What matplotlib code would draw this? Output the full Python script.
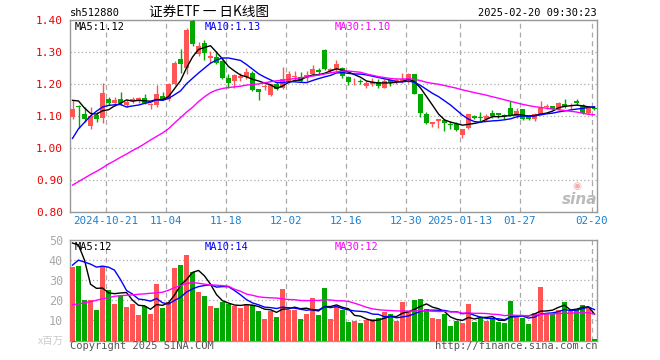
import numpy as np
import pandas as pd
import matplotlib
matplotlib.use('Agg')
import matplotlib.pyplot as plt

# 日K数据 sh512880 证券ETF  (2024-10-11 ~ 2025-02-20, 88 个交易日)
open_ = [1.098, 1.130, 1.105, 1.069, 1.102, 1.095, 1.152, 1.140, 1.152, 1.134,
         1.147, 1.147, 1.157, 1.133, 1.134, 1.163, 1.152, 1.201, 1.277, 1.251,
         1.397, 1.295, 1.329, 1.280, 1.284, 1.272, 1.218, 1.209, 1.220, 1.223,
         1.235, 1.183, 1.190, 1.166, 1.199, 1.188, 1.209, 1.222, 1.222, 1.218,
         1.230, 1.243, 1.305, 1.241, 1.246, 1.251, 1.222, 1.205, 1.208, 1.194,
         1.201, 1.206, 1.189, 1.213, 1.209, 1.209, 1.211, 1.230, 1.168, 1.107,
         1.074, 1.084, 1.088, 1.075, 1.076, 1.041, 1.064, 1.100, 1.098, 1.090,
         1.110, 1.109, 1.103, 1.124, 1.100, 1.121, 1.100, 1.090, 1.103, 1.129,
         1.132, 1.121, 1.139, 1.133, 1.147, 1.135, 1.110, 1.125]
high = [1.149, 1.133, 1.128, 1.128, 1.114, 1.202, 1.159, 1.160, 1.176, 1.150,
        1.160, 1.160, 1.170, 1.142, 1.197, 1.176, 1.203, 1.273, 1.308, 1.375,
        1.402, 1.330, 1.336, 1.303, 1.303, 1.275, 1.230, 1.230, 1.235, 1.249,
        1.240, 1.185, 1.200, 1.201, 1.205, 1.253, 1.240, 1.240, 1.238, 1.240,
        1.258, 1.251, 1.310, 1.251, 1.274, 1.253, 1.224, 1.218, 1.215, 1.209,
        1.218, 1.215, 1.215, 1.215, 1.220, 1.235, 1.235, 1.232, 1.170, 1.112,
        1.082, 1.092, 1.092, 1.084, 1.082, 1.058, 1.107, 1.103, 1.114, 1.105,
        1.118, 1.110, 1.105, 1.147, 1.124, 1.121, 1.103, 1.109, 1.147, 1.139,
        1.132, 1.145, 1.152, 1.140, 1.152, 1.139, 1.128, 1.128]
low = [1.090, 1.062, 1.080, 1.060, 1.081, 1.078, 1.134, 1.132, 1.135, 1.128,
       1.140, 1.142, 1.138, 1.121, 1.128, 1.149, 1.147, 1.197, 1.235, 1.230,
       1.318, 1.288, 1.274, 1.267, 1.261, 1.215, 1.189, 1.189, 1.209, 1.215,
       1.178, 1.149, 1.180, 1.163, 1.180, 1.183, 1.204, 1.209, 1.207, 1.209,
       1.225, 1.230, 1.244, 1.235, 1.241, 1.218, 1.197, 1.197, 1.199, 1.187,
       1.194, 1.187, 1.187, 1.194, 1.199, 1.204, 1.204, 1.168, 1.097, 1.074,
       1.066, 1.064, 1.053, 1.058, 1.053, 1.032, 1.058, 1.090, 1.084, 1.084,
       1.095, 1.095, 1.090, 1.100, 1.095, 1.086, 1.086, 1.084, 1.102, 1.121,
       1.118, 1.118, 1.126, 1.121, 1.134, 1.107, 1.105, 1.118]
close = [1.121, 1.127, 1.090, 1.100, 1.092, 1.173, 1.142, 1.150, 1.142, 1.144,
         1.154, 1.155, 1.142, 1.136, 1.170, 1.153, 1.201, 1.267, 1.261, 1.368,
         1.324, 1.320, 1.298, 1.288, 1.267, 1.218, 1.202, 1.228, 1.225, 1.239,
         1.180, 1.176, 1.195, 1.199, 1.183, 1.215, 1.232, 1.225, 1.209, 1.228,
         1.246, 1.236, 1.248, 1.246, 1.261, 1.225, 1.207, 1.207, 1.206, 1.202,
         1.206, 1.194, 1.209, 1.206, 1.213, 1.217, 1.230, 1.170, 1.108, 1.079,
         1.082, 1.092, 1.079, 1.073, 1.055, 1.058, 1.105, 1.093, 1.093, 1.100,
         1.100, 1.103, 1.101, 1.103, 1.116, 1.090, 1.090, 1.107, 1.126, 1.132,
         1.121, 1.142, 1.130, 1.135, 1.142, 1.110, 1.126, 1.122]
# 成交量 (x百万)
volume = [36.5, 37.3, 20.3, 20.3, 15.3, 37.3, 25.3, 18.3, 22.0, 16.5,
          18.3, 12.5, 17.0, 13.3, 28.3, 16.3, 19.0, 36.0, 37.8, 42.3,
          34.2, 24.0, 22.3, 17.3, 16.3, 19.0, 18.3, 17.3, 16.3, 18.3,
          17.8, 14.8, 10.8, 14.8, 11.8, 25.8, 15.3, 15.3, 10.8, 13.3,
          21.3, 12.8, 26.3, 10.8, 17.3, 15.3, 9.3, 9.8, 8.8, 10.3,
          10.8, 11.3, 14.3, 13.3, 9.8, 19.3, 14.8, 20.3, 20.8, 15.8,
          11.3, 10.8, 13.3, 7.3, 9.8, 8.8, 18.3, 9.3, 11.3, 9.8,
          10.8, 9.3, 8.8, 19.8, 12.8, 11.3, 8.3, 13.8, 26.8, 13.3,
          13.3, 15.3, 19.3, 14.8, 15.3, 17.8, 16.8, 0.8]

# 均线开头几天 (窗口之前的数据不在图内, 直接读图)
ma5_head = [1.149, 1.147, 1.125, 1.108]
ma10_head = [1.030, 1.060, 1.080, 1.100, 1.115, 1.128, 1.133, 1.135, 1.136]
ma30_head = [0.884, 0.895, 0.906, 0.917, 0.927, 0.938, 0.950, 0.960, 0.971, 0.981,
             0.992, 1.002, 1.013, 1.025, 1.036, 1.047, 1.060, 1.078, 1.095, 1.112,
             1.127, 1.145, 1.160, 1.173, 1.181, 1.186, 1.189, 1.191, 1.193]
vma5_head = [48.5, 47.5, 40.0, 28.0]
vma10_head = [37.5, 40.0, 39.0, 38.0, 36.5, 37.0, 36.5, 35.0, 30.3]
vma30_head = [17.8, 18.2, 18.8, 19.3, 20.0, 20.8, 21.3, 22.0, 22.3, 22.5,
              22.7, 23.0, 23.2, 23.5, 23.7, 24.0, 25.0, 26.3, 27.3, 28.3,
              28.8, 28.5, 28.0, 27.7, 27.5, 27.3, 27.0, 25.5, 24.5]

tick_pos = [6, 16, 26, 36, 46, 56, 65, 75, 87]
tick_labels = ['2024-10-21', '11-04', '11-18', '12-02', '12-16', '12-30',
               '2025-01-13', '01-27', '02-20']
price_ticks = [0.80, 0.90, 1.00, 1.10, 1.20, 1.30, 1.40]
vol_ticks = [10, 20, 30, 40, 50]


def moving_avg(values, n, head):
    s = pd.Series(values).rolling(n).mean().to_numpy()
    s[:len(head)] = head
    return s


RED = '#ff5555'
GREEN = '#00a800'
GRID = '#aaaaaa'
MONO = 'DejaVu Sans Mono'
CJK = ['Noto Sans CJK SC', 'DejaVu Sans']

o = np.array(open_)
h = np.array(high)
l = np.array(low)
c = np.array(close)
v = np.array(volume)
x = np.arange(len(c))
up = c >= o
colors = np.where(up, RED, GREEN)

W, H = 660, 360
fig = plt.figure(figsize=(6.6, 3.6), dpi=100)


def ft(px, py, s, **kw):
    fig.text(px / W, 1 - py / H, s, **kw)


def box(left, top, right, bottom):
    return [left / W, 1 - bottom / H, (right - left) / W, (bottom - top) / H]


ax = fig.add_axes(box(70, 20, 597, 212))
axv = fig.add_axes(box(70, 240, 597, 340.5))

half = 5 / 12.0
xl = (-half, len(c) - 1 + half)

# K线
ax.vlines(x, l, h, colors=colors, linewidth=1, zorder=3)
body_h = np.maximum(np.abs(c - o), 0.0025)
ax.bar(x, body_h, bottom=np.minimum(o, c), width=2 * half, color=colors,
       linewidth=0, zorder=4)
ax.plot(x, moving_avg(c, 5, ma5_head), color='black', lw=1, zorder=5)
ax.plot(x, moving_avg(c, 10, ma10_head), color='blue', lw=1, zorder=5)
ax.plot(x, moving_avg(c, 30, ma30_head), color='magenta', lw=1, zorder=5)

ax.set_xlim(*xl)
ax.set_ylim(0.80, 1.40)
ax.set_yticks(price_ticks)
ax.set_yticklabels(['%.2f' % t for t in price_ticks], family=MONO)
ax.set_xticks(np.array(tick_pos) - half)
ax.set_xticklabels(tick_labels, family=MONO)
ax.tick_params(axis='y', length=0, pad=5, labelcolor='#ee0000', labelsize=8)
ax.tick_params(axis='x', length=0, pad=3, labelcolor='#1a80d0', labelsize=7.8)
ax.grid(axis='y', color=GRID, linestyle=(0, (1, 2)), lw=0.9)
ax.grid(axis='x', color=GRID, linestyle=(0, (4, 3)), lw=0.9)
ax.set_axisbelow(True)

# 成交量
axv.bar(x, v, width=2 * half, color=colors, linewidth=0, zorder=3)
axv.plot(x, moving_avg(v, 5, vma5_head), color='black', lw=1, zorder=5)
axv.plot(x, moving_avg(v, 10, vma10_head), color='blue', lw=1, zorder=5)
axv.plot(x, moving_avg(v, 30, vma30_head), color='magenta', lw=1, zorder=5)
axv.set_xlim(*xl)
axv.set_ylim(0, 50)
axv.set_yticks(vol_ticks)
axv.set_yticklabels([str(t) for t in vol_ticks], family=MONO)
axv.set_xticks(np.array(tick_pos) - half)
axv.set_xticklabels([])
axv.tick_params(axis='y', length=0, pad=5, labelcolor='#aaaaaa', labelsize=8.5)
axv.tick_params(axis='x', length=0)
axv.grid(axis='y', color=GRID, linestyle=(0, (1, 2)), lw=0.9)
axv.grid(axis='x', color=GRID, linestyle=(0, (4, 3)), lw=0.9)
axv.set_axisbelow(True)

for a in (ax, axv):
    for sp in a.spines.values():
        sp.set_color('#999999')
        sp.set_linewidth(1)

# 文字
ft(70, 13, 'sh512880', family=MONO, fontsize=7.5, va='center')
ft(209, 12, '证券ETF 一 日K线图', family=CJK, fontsize=9.8, ha='center', va='center')
ft(597, 13, '2025-02-20 09:30:23', family=MONO, fontsize=7.5, ha='right', va='center')
ft(75, 27, 'MA5:1.12', family=MONO, fontsize=7.5, va='center', color='black')
ft(205, 27, 'MA10:1.13', family=MONO, fontsize=7.5, va='center', color='blue')
ft(335, 27, 'MA30:1.10', family=MONO, fontsize=7.5, va='center', color='magenta')
ft(75, 247, 'MA5:12', family=MONO, fontsize=7.5, va='center', color='black')
ft(205, 247, 'MA10:14', family=MONO, fontsize=7.5, va='center', color='blue')
ft(335, 247, 'MA30:12', family=MONO, fontsize=7.5, va='center', color='magenta')
ft(64, 341, 'x百万', family=CJK, fontsize=7.5, ha='right', va='center',
   color='#cccccc')
ft(70, 346, 'Copyright 2025 SINA.COM', family=MONO, fontsize=7.5, va='center',
   color='#555555')
ft(597, 346, 'http://finance.sina.com.cn', family=MONO, fontsize=7.5, ha='right',
   va='center', color='#555555')
# 新浪水印
ft(580, 200, 'sina', family='DejaVu Sans', fontsize=11, fontweight='bold',
   style='italic', ha='center', va='center', color='#b0b0b0', alpha=0.85)
ft(577, 186, '◉', family='DejaVu Sans', fontsize=7.5, ha='center', va='center',
   color='#f2a0a0', alpha=0.85)

fig.savefig('out.png', dpi=100)
